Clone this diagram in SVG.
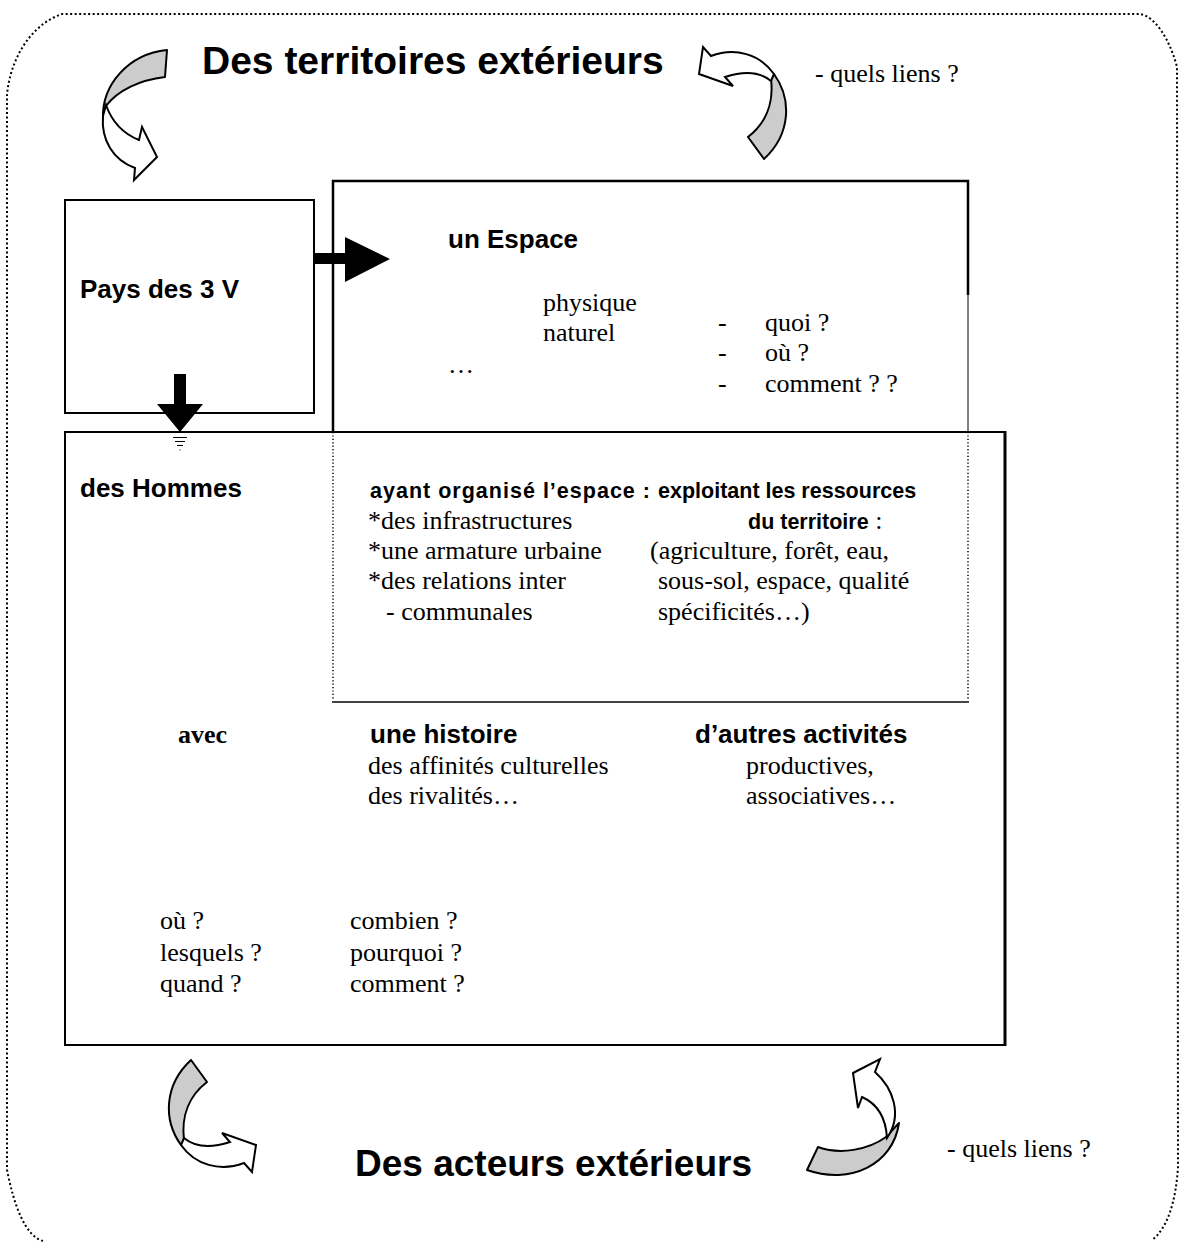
<svg xmlns="http://www.w3.org/2000/svg" width="1179" height="1242" viewBox="0 0 1179 1242">
<style>
.ser{font-family:"Liberation Serif","Times New Roman",serif;font-size:26px;fill:#000}
.sb{font-family:"Liberation Sans",Arial,sans-serif;font-weight:bold;font-size:26px;fill:#000}
.sbs{font-family:"Liberation Sans",Arial,sans-serif;font-weight:bold;font-size:21.5px;fill:#000}
.title{font-family:"Liberation Sans",Arial,sans-serif;font-weight:bold;fill:#000}
.box{fill:none;stroke:#000;stroke-width:2}
.gray{fill:#cccccc;stroke:#000;stroke-width:2;stroke-linejoin:round}
.white{fill:#fff;stroke:#000;stroke-width:2;stroke-linejoin:miter}
</style>
<rect width="1179" height="1242" fill="#fff"/>
<path id="border" d="M43,1241 C25,1236 14,1205 7,1170 L7,95 C10,60 30,25 62,14 L1140,14 C1155,16 1170,40 1177,67 L1178,1167 C1176,1200 1168,1228 1152,1240" fill="none" stroke="#000" stroke-width="2" stroke-dasharray="2 2.5"/>

<g id="title-top"><text class="title" x="202" y="74" font-size="39">Des territoires extérieurs</text></g>
<g id="title-bottom"><text class="title" x="355" y="1176" font-size="37">Des acteurs extérieurs</text></g>
<text class="ser" x="815" y="82">- quels liens ?</text>
<text class="ser" x="947" y="1157">- quels liens ?</text>

<g id="pays">
<rect class="box" x="65" y="200" width="249" height="213"/>
<text class="sb" x="80" y="298" font-size="27">Pays des 3 V</text>
</g>

<g id="espace">
<path d="M333,432 L333,181 L968,181 L968,295" fill="none" stroke="#000" stroke-width="2.5"/>
<line x1="968" y1="295" x2="968" y2="432" stroke="#000" stroke-width="1"/>
<line x1="333" y1="432" x2="333" y2="700" stroke="#000" stroke-width="1.5" stroke-dasharray="1.2 2.2"/>
<line x1="968" y1="432" x2="968" y2="700" stroke="#000" stroke-width="1.5" stroke-dasharray="1.2 2.2"/>
<line x1="332" y1="702" x2="969" y2="702" stroke="#444" stroke-width="2"/>
<text class="sb" x="448" y="248">un Espace</text>
<text class="ser" x="543" y="311">physique</text>
<text class="ser" x="543" y="341">naturel</text>
<text class="ser" x="448" y="373">…</text>
<text class="ser" x="718" y="331">-</text>
<text class="ser" x="765" y="331">quoi ?</text>
<text class="ser" x="718" y="361">-</text>
<text class="ser" x="765" y="361">où ?</text>
<text class="ser" x="718" y="392">-</text>
<text class="ser" x="765" y="392">comment ? ?</text>
</g>

<g id="hommes">
<path d="M1005,432 L65,432 L65,1045 L1005,1045" fill="none" stroke="#000" stroke-width="2"/>
<line x1="1005" y1="431" x2="1005" y2="1046" stroke="#000" stroke-width="3"/>
<text class="sb" x="80" y="497" font-size="27">des Hommes</text>
<text class="sbs" x="370" y="498" textLength="280" lengthAdjust="spacing">ayant organisé l’espace :</text>
<text class="sbs" x="658" y="498">exploitant les ressources</text>
<text class="ser" x="368" y="529">*des infrastructures</text>
<text class="ser" x="748" y="529"><tspan class="sbs">du territoire</tspan> :</text>
<text class="ser" x="368" y="559">*une armature urbaine</text>
<text class="ser" x="650" y="559">(agriculture, forêt, eau,</text>
<text class="ser" x="368" y="589">*des relations inter</text>
<text class="ser" x="658" y="589">sous-sol, espace, qualité</text>
<text class="ser" x="386" y="620">- communales</text>
<text class="ser" x="658" y="620">spécificités…)</text>
<text class="ser" x="178" y="743" font-weight="bold">avec</text>
<text class="sb" x="370" y="743">une histoire</text>
<text class="sb" x="695" y="743" font-size="26.5">d’autres activités</text>
<text class="ser" x="368" y="774">des affinités culturelles</text>
<text class="ser" x="746" y="774">productives,</text>
<text class="ser" x="368" y="804">des rivalités…</text>
<text class="ser" x="746" y="804">associatives…</text>
<text class="ser" x="160" y="929">où ?</text>
<text class="ser" x="350" y="929">combien ?</text>
<text class="ser" x="160" y="961">lesquels ?</text>
<text class="ser" x="350" y="961">pourquoi ?</text>
<text class="ser" x="160" y="992">quand ?</text>
<text class="ser" x="350" y="992">comment ?</text>
</g>

<g id="connectors">
<path d="M314,253 L345,253 L345,237 L390,259 L345,282 L345,264 L314,264 Z" fill="#000"/>
<path d="M174,374 L186,374 L186,404 L203,404 L180,432 L157,404 L174,404 Z" fill="#000"/>
<g stroke="#000" stroke-width="1">
<line x1="173" y1="437.5" x2="187" y2="437.5"/>
<line x1="175" y1="441.5" x2="185" y2="441.5"/>
<line x1="177" y1="445.5" x2="183" y2="445.5"/>
<line x1="179.5" y1="450" x2="180.5" y2="450"/>
</g>
<g id="curve-top-left">
<path class="gray" d="M167,50 L165,77 C140,80 118,90 106,106 L103,118 C102,85 128,54 167,50 Z"/>
<path class="white" d="M106,105 C112,122 124,134 139,140 L142,127 L157,157 L134,180 L135,168 C113,160 101,140 103,116 Z"/>
</g>
<g id="curve-bottom-left">
<path class="gray" d="M191,1060 L207,1082 C190,1095 181,1115 184,1140 L181,1145 C163,1120 164,1085 191,1060 Z"/>
<path class="white" d="M184,1138 C196,1148 212,1148 230,1142 L222,1133 L256,1145 L252,1172 L244,1163 C220,1172 195,1165 181,1145 Z"/>
</g>
<g id="curve-top-right" transform="rotate(180 477.5 609.5)">
<path class="gray" d="M191,1060 L207,1082 C190,1095 181,1115 184,1140 L181,1145 C163,1120 164,1085 191,1060 Z"/>
<path class="white" d="M184,1138 C196,1148 212,1148 230,1142 L222,1133 L256,1145 L252,1172 L244,1163 C220,1172 195,1165 181,1145 Z"/>
</g>
<g id="curve-bottom-right">
<path class="gray" d="M818,1147 C840,1155 868,1150 886,1137 L899,1123 C893,1165 850,1185 807,1170 Z"/>
<path class="white" d="M853,1073 L880,1059 L875,1072 C893,1088 903,1115 887,1138 C886,1120 880,1105 862,1097 L858,1108 Z"/>
</g>
</g>
</svg>
